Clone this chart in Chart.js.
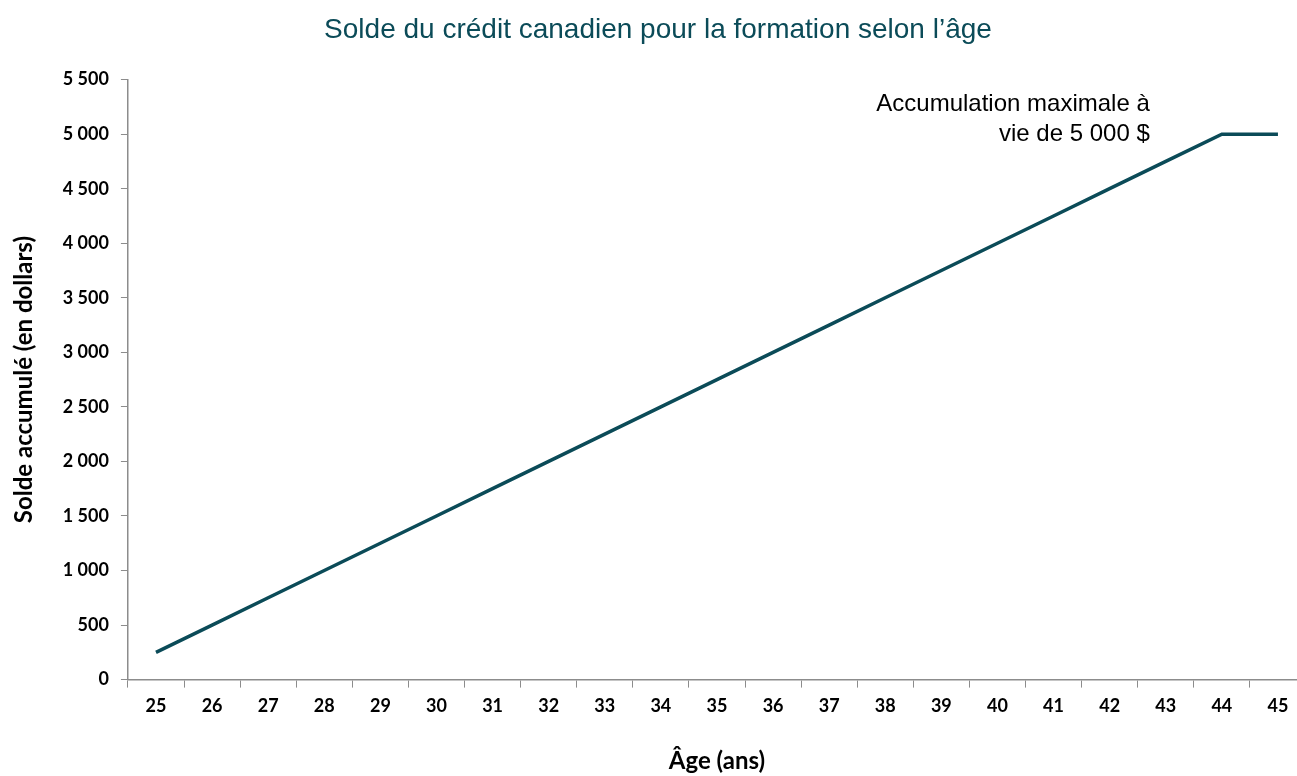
<!DOCTYPE html>
<html lang="fr">
<head>
<meta charset="utf-8">
<title>Solde du crédit canadien pour la formation selon l’âge</title>
<script src="https://cdn.jsdelivr.net/npm/chart.js@4.4.1/dist/chart.umd.min.js"></script>
<style>
  html, body { margin: 0; padding: 0; background: #fff; overflow: hidden; }
  /* the original picture is cropped a little on the right, so the canvas is wider than the window */
  #wrap { width: 1306px; height: 776px; position: relative; }
</style>
</head>
<body>
<div id="wrap"><canvas id="chart"></canvas></div>
<script>
// Data
const ages = ['25', '26', '27', '28', '29', '30', '31', '32', '33', '34', '35',
  '36', '37', '38', '39', '40', '41', '42', '43', '44', '45'];
const balances = [250, 500, 750, 1000, 1250, 1500, 1750, 2000, 2250, 2500, 2750,
  3000, 3250, 3500, 3750, 4000, 4250, 4500, 4750, 5000, 5000];
const noteLines = ['Accumulation maximale à', 'vie de 5 000 $'];

const TEAL = '#0b4b58';
const AXIS_GREY = '#8c8c8c';
const tickFont = { family: 'Lato, "Open Sans", sans-serif', size: 18, weight: 'bold' };
const axisTitleFont = { family: 'Lato, "Open Sans", sans-serif', size: 24, weight: 'bold' };

// Format numbers with a plain space as thousands separator
function formatThousands(value) {
  return String(value).replace(/\B(?=(\d{3})+(?!\d))/g, ' ');
}

// Draws the annotation near the plateau, anchored on the scales
const notePlugin = {
  id: 'note',
  afterDatasetsDraw(chart) {
    const { ctx, scales } = chart;
    const right = scales.x.getPixelForValue(18) - 16;
    const top = scales.y.getPixelForValue(5000);
    ctx.save();
    ctx.fillStyle = '#000';
    ctx.font = '24px "Liberation Sans Narrow", "Arial Narrow", sans-serif';
    ctx.textAlign = 'right';
    ctx.textBaseline = 'middle';
    ctx.fillText(noteLines[0], right, top - 30);
    ctx.fillText(noteLines[1], right, top);
    ctx.restore();
  }
};

new Chart(document.getElementById('chart'), {
  type: 'line',
  data: {
    labels: ages,
    datasets: [{
      label: 'Solde',
      data: balances,
      borderColor: TEAL,
      borderWidth: 3.5,
      pointRadius: 0,
      tension: 0,
      fill: false
    }]
  },
  options: {
    responsive: true,
    maintainAspectRatio: false,
    animation: false,
    layout: { padding: { left: 10, right: 0, top: 0, bottom: 0 } },
    plugins: {
      legend: { display: false },
      tooltip: { enabled: false },
      title: {
        display: true,
        text: 'Solde du crédit canadien pour la formation selon l’âge',
        color: TEAL,
        font: { family: '"Liberation Sans Narrow", "Arial Narrow", sans-serif', size: 28, weight: 'normal' },
        padding: { top: 13, bottom: 33 }
      }
    },
    scales: {
      x: {
        offset: true,
        border: { color: AXIS_GREY, width: 1.5 },
        grid: { display: true, drawOnChartArea: false, drawTicks: true, tickLength: 8, color: AXIS_GREY, offset: true },
        ticks: { color: '#000', font: tickFont, padding: 8, maxRotation: 0, autoSkip: false },
        title: {
          display: true,
          text: 'Âge (ans)',
          color: '#000',
          font: axisTitleFont,
          padding: { top: 22, bottom: 0 }
        }
      },
      y: {
        min: 0,
        max: 5500,
        border: { color: AXIS_GREY, width: 1.5 },
        grid: { display: true, drawOnChartArea: false, drawTicks: true, tickLength: 7, color: AXIS_GREY },
        ticks: {
          stepSize: 500,
          color: '#000',
          font: tickFont,
          padding: 12,
          callback: (v) => formatThousands(v)
        },
        title: {
          display: true,
          text: 'Solde accumulé (en dollars)',
          color: '#000',
          font: axisTitleFont,
          padding: { top: 0, bottom: 12 }
        }
      }
    }
  },
  plugins: [notePlugin]
});
</script>
</body>
</html>
